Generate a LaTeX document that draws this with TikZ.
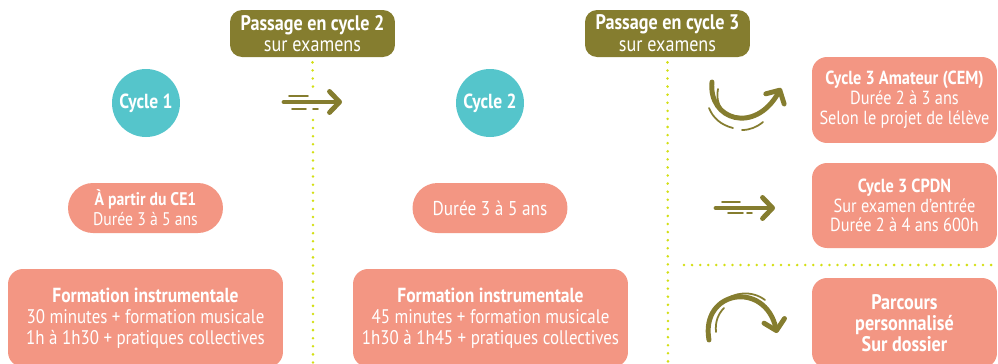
\documentclass[tikz,border=0pt]{standalone}
\usepackage{fontspec}
\setmainfont{PT Sans}[FakeStretch=0.86]
\usetikzlibrary{positioning,arrows.meta}

\definecolor{boxpink}{HTML}{F39683}
\definecolor{passolive}{HTML}{857D2F}
\definecolor{cyclecyan}{HTML}{55C5CB}
\definecolor{dotgreen}{HTML}{D3DF14}

\begin{document}
\begin{tikzpicture}[x=0.02cm, y=-0.02cm,
  font=\fontsize{11.2}{11.9}\selectfont,
  pass/.style={fill=passolive, text=white, rounded corners=0.24cm, minimum width=3.3cm, minimum height=0.94cm, align=center, inner sep=0pt, font=\fontsize{12}{12.4}\selectfont},
  cyc/.style={circle, fill=cyclecyan, text=white, minimum size=1.36cm, inner sep=0pt, font=\fontsize{11.6}{11}\selectfont\bfseries},
  pill/.style={fill=boxpink, text=white, rounded corners=0.5cm, minimum width=3.1cm, minimum height=1cm, align=center, inner sep=0pt},
  info/.style={fill=boxpink, text=white, rounded corners=0.3cm, align=center, inner sep=0pt},
  sep/.style={dotgreen, line width=1.6pt, line cap=round, dash pattern=on 0pt off 4.6pt},
  go/.style={passolive, line width=2.8pt, line cap=round, -{Straight Barb[length=0.2cm, width=0.42cm, round]}},
  trail/.style={passolive, line width=1pt, line cap=round}]

\clip (0,0) rectangle (998,363);

% passages
\node[pass] (pass2) at (312.5,33.5) {\textbf{Passage en cycle 2}\\sur examens};
\node[pass] (pass3) at (667.5,33.5) {\textbf{Passage en cycle 3}\\sur examens};

% separators
\coordinate (gap1) at (313,90);
\coordinate (gap2) at (313,120);
\coordinate (low1) at (313,363);
\coordinate (low2) at (668,363);
\coordinate (side1) at (684,265);
\coordinate (side2) at (998,265);
\draw[sep] ([yshift=-0.1cm]pass2.south) -- (gap1);
\draw[sep] (gap2) -- (low1);
\draw[sep] ([yshift=-0.1cm]pass3.south) -- (low2);
\draw[sep] (side1) -- (side2);

% cycles 1 and 2
\node[cyc] (cyc1) at (146,103) {Cycle 1};
\node[cyc] (cyc2) at (490,103) {Cycle 2};
\node[pill, font=\fontsize{10.4}{11.5}\selectfont] (ce1) at (145.5,208) {\textbf{À partir du CE1}\\Durée 3 à 5 ans};
\node[pill, font=\fontsize{11.4}{12}\selectfont] (dur2) at (490,208) {Durée 3 à 5 ans};
\node[info, minimum width=5.5cm, minimum height=1.96cm] (form1) at (145.5,318) {{\fontsize{11.6}{11.9}\selectfont\bfseries Formation instrumentale}\\30 minutes + formation musicale\\1h à 1h30 + pratiques collectives};
\node[info, minimum width=5.5cm, minimum height=1.96cm] (form2) at (490.5,318) {{\fontsize{11.6}{11.9}\selectfont\bfseries Formation instrumentale}\\45 minutes + formation musicale\\1h30 à 1h45 + pratiques collectives};

% cycle 3
\node[info, minimum width=3.7cm, minimum height=1.72cm, font=\fontsize{10.8}{11.4}\selectfont] (cem) at (904.5,100) {\textbf{Cycle 3 Amateur (CEM)}\\Durée 2 à 3 ans\\Selon le projet de lélève};
\node[info, minimum width=3.7cm, minimum height=1.7cm, font=\fontsize{10.8}{11}\selectfont] (cpdn) at (904.5,205.5) {\textbf{Cycle 3 CPDN}\\Sur examen d’entrée\\Durée 2 à 4 ans 600h};
\node[info, minimum width=3.7cm, minimum height=1.8cm, font=\fontsize{12}{12}\selectfont\bfseries] (parc) at (904.5,323) {Parcours\\personnalisé\\Sur dossier};

% arrows
\def\x{313}
\def\y{102}
\draw[go] (\x-29,\y) -- (\x+29,\y);
\draw[trail] (\x-24,\y-6) -- (\x-5,\y-6);
\draw[trail] (\x-21,\y+7) -- (\x-7,\y+7);
\draw[trail] (\x,\y+7) -- (\x+5,\y+7);

\def\x{745}
\def\y{208}
\draw[go] (\x-29,\y) -- (\x+30,\y);
\draw[trail] (\x-23,\y-6) -- (\x-5,\y-6);
\draw[trail] (\x-17,\y+5) -- (\x-2,\y+5);
\draw[trail] (\x+2,\y+5) -- (\x+7,\y+5);

\def\x{745}
\def\y{105}
\draw[go] (\x-33,\y-23) .. controls (\x-37,\y+15) and (\x+10,\y+30) .. (\x+36,\y-17);
\draw[trail] (\x-27,\y-16) .. controls (\x-29,\y-6) and (\x-26,\y+2) .. (\x-20,\y+8);
\draw[trail] (\x-36,\y+3) .. controls (\x-32,\y+13) and (\x-24,\y+20) .. (\x-12,\y+23);
\draw[trail] (\x-3,\y+25) .. controls (\x+5,\y+25) and (\x+12,\y+22) .. (\x+18,\y+17);

\def\x{745}
\def\y{318}
\draw[go] (\x-36,\y+22) .. controls (\x-45,\y-28) and (\x+20,\y-38) .. (\x+32,\y+15);
\draw[trail] (\x-22,\y-16) .. controls (\x-12,\y-26) and (\x+7,\y-28) .. (\x+20,\y-18);
\draw[trail] (\x-29,\y+14) .. controls (\x-30,\y+4) and (\x-27,\y-4) .. (\x-21,\y-10);

\end{tikzpicture}
\end{document}
